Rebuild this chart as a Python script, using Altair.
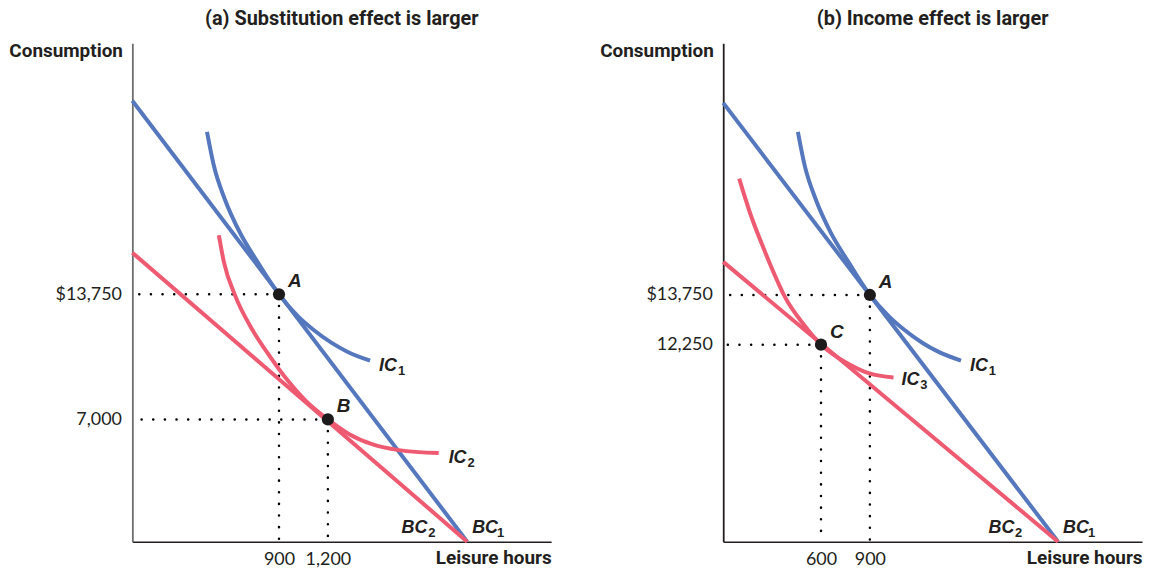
import altair as alt
import pandas as pd

# ---------------- data ----------------
# Panel (a): substitution effect is larger
A_BC1_X = [0, 2055]
A_BC1_Y = [24200, 400]
A_BC2_X = [0, 2055]
A_BC2_Y = [16000, 400]
A_IC1_X = [458, 500, 568, 659, 769, 900, 1020, 1111, 1221, 1319, 1459]
A_IC1_Y = [22520, 20700, 18870, 17100, 15490, 13750, 12535, 11840, 11140, 10655, 10170]
A_IC2_X = [531, 562, 629, 733, 824, 934, 1068, 1200, 1331, 1471, 1636, 1880]
A_IC2_Y = [16940, 15490, 13720, 11890, 10655, 9313, 7971, 7000, 6200, 5660, 5340, 5180]
A_PT_NAMES = ["A", "B"]
A_PT_X = [900, 1200]
A_PT_Y = [13750, 7000]

# Panel (b): income effect is larger
B_BC1_X = [0, 2055]
B_BC1_Y = [19550, 6300]
B_BC2_X = [0, 2055]
B_BC2_Y = [14750, 6300]
B_IC1_X = [458, 500, 568, 659, 769, 900, 1020, 1111, 1221, 1319, 1459]
B_IC1_Y = [18676, 17655, 16634, 15642, 14741, 13750, 13089, 12699, 12308, 12038, 11767]
B_IC3_X = [98, 170, 250, 335, 372, 495, 600, 775, 897, 1045]
B_IC3_Y = [17265, 16150, 15130, 14140, 13750, 12850, 12250, 11650, 11380, 11260]
B_PT_NAMES = ["A", "C"]
B_PT_X = [900, 600]
B_PT_Y = [13750, 12250]

# ---------------- styling ----------------
W, H = 421, 501
X_DOMAIN = [0, 2570]
BLUE = "#5577bd"
RED = "#ee5a71"
INK = "#231f20"
BOLD_FONT = "Roboto"
LABEL_FONT = "Lato"
ITALIC_FONT = "Liberation Sans"


def make_panel(title, y_domain, y_ticks, yaxis_color, curves, pt_names, pt_x, pt_y, curve_labels):
    x_axis = alt.Axis(
        values=list(pt_x), labelExpr="format(datum.value, ',')", title="Leisure hours",
        ticks=False, tickSize=0, grid=False, domainColor=INK, domainWidth=1.5,
        labelFont=LABEL_FONT, labelFontSize=18, labelColor=INK, labelPadding=23,
        labelBaseline="alphabetic", labelFlush=False, labelOverlap=False,
        titleFont=BOLD_FONT, titleFontSize=19, titleFontWeight="bold", titleColor=INK,
        titleX=W, titleY=22, titleAlign="right", titleBaseline="alphabetic",
    )
    y_axis = alt.Axis(
        values=list(y_ticks),
        labelExpr="(datum.value == 13750 ? '$' : '') + format(datum.value, ',')",
        title="Consumption", ticks=False, tickSize=0, grid=False,
        domainColor=yaxis_color, domainWidth=1.8,
        labelFont=LABEL_FONT, labelFontSize=18, labelColor=INK, labelPadding=11,
        labelBaseline="middle", labelFlush=False, labelOverlap=False,
        titleFont=BOLD_FONT, titleFontSize=19, titleFontWeight="bold", titleColor=INK,
        titleAngle=0, titleX=-10, titleY=7, titleAlign="right", titleBaseline="middle",
    )
    xs = alt.Scale(domain=X_DOMAIN, nice=False, zero=False)
    ys = alt.Scale(domain=y_domain, nice=False, zero=False)
    xe = alt.X("x:Q", scale=xs, axis=x_axis)
    ye = alt.Y("y:Q", scale=ys, axis=y_axis)

    layers = []
    # dotted guide lines
    pts = pd.DataFrame({"name": pt_names, "x": pt_x, "y": pt_y})
    dots = dict(color="black", strokeWidth=2.5, strokeDash=[0.1, 11.6], strokeCap="round")
    layers.append(alt.Chart(pts).mark_rule(**dots).encode(x=xe, y=ye, x2=alt.value(0)))
    layers.append(alt.Chart(pts).mark_rule(**dots).encode(x=xe, y=ye, y2=alt.value(H)))
    # curves
    for cx, cy, col in curves:
        df = pd.DataFrame({"x": cx, "y": cy})
        layers.append(alt.Chart(df).mark_line(color=col, strokeWidth=4, interpolate="monotone",
                                              strokeCap="butt").encode(x=xe, y=ye))
    # points + labels
    layers.append(alt.Chart(pts).mark_circle(size=150, color="#1c1a1b", opacity=1).encode(x=xe, y=ye))
    layers.append(alt.Chart(pts).mark_text(font=ITALIC_FONT, fontStyle="italic", fontWeight="bold",
                                           fontSize=19, align="left", baseline="alphabetic",
                                           dx=9, dy=-7, color=INK).encode(x=xe, y=ye, text="name:N"))
    # curve labels with subscripts
    for lx, ly, main, sub, align, dx, dy, sdx in curve_labels:
        df = pd.DataFrame({"x": [lx], "y": [ly], "main": [main], "sub": [sub]})
        layers.append(alt.Chart(df).mark_text(font=ITALIC_FONT, fontStyle="italic", fontWeight="bold",
                                              fontSize=18, align=align, baseline="alphabetic",
                                              dx=dx, dy=dy, color=INK).encode(x=xe, y=ye, text="main:N"))
        layers.append(alt.Chart(df).mark_text(font=ITALIC_FONT, fontWeight="bold",
                                              fontSize=13, align=align, baseline="alphabetic",
                                              dx=sdx, dy=dy + 4, color=INK).encode(x=xe, y=ye, text="sub:N"))
    return alt.layer(*layers).properties(
        width=W, height=H,
        title=alt.TitleParams(title, font=BOLD_FONT, fontSize=20, fontWeight="bold", color=INK,
                              anchor="middle", baseline="alphabetic", offset=-4),
    )


panel_a = make_panel(
    "(a) Substitution effect is larger", [400, 27300], [13750, 7000], "#6d6d6d",
    [(A_BC1_X, A_BC1_Y, BLUE), (A_BC2_X, A_BC2_Y, RED), (A_IC1_X, A_IC1_Y, BLUE), (A_IC2_X, A_IC2_Y, RED)],
    A_PT_NAMES, A_PT_X, A_PT_Y,
    [
        (A_IC1_X[-1], A_IC1_Y[-1], "IC", "1", "left", 9, 10, 28),
        (A_IC2_X[-1], A_IC2_Y[-1], "IC", "2", "left", 10, 10, 29),
        (A_BC1_X[-1], A_BC1_Y[-1], "BC", "1", "left", 5, -9, 30),
        (A_BC2_X[-1], A_BC2_Y[-1], "BC", "2", "right", -40, -9, -32),
    ],
)

panel_b = make_panel(
    "(b) Income effect is larger", [6300, 21350], [13750, 12250], INK,
    [(B_BC1_X, B_BC1_Y, BLUE), (B_BC2_X, B_BC2_Y, RED), (B_IC1_X, B_IC1_Y, BLUE), (B_IC3_X, B_IC3_Y, RED)],
    B_PT_NAMES, B_PT_X, B_PT_Y,
    [
        (B_IC1_X[-1], B_IC1_Y[-1], "IC", "1", "left", 9, 10, 28),
        (B_IC3_X[-1], B_IC3_Y[-1], "IC", "3", "left", 8, 8, 27),
        (B_BC1_X[-1], B_BC1_Y[-1], "BC", "1", "left", 5, -9, 30),
        (B_BC2_X[-1], B_BC2_Y[-1], "BC", "2", "right", -44, -9, -36),
    ],
)

chart = alt.hconcat(panel_a, panel_b, spacing=173, bounds="flush").properties(
    padding={"left": 0, "top": 0, "right": 4, "bottom": 0}
).configure_view(stroke=None)

chart.save("out.html", embed_options={"renderer": "svg", "actions": False})
